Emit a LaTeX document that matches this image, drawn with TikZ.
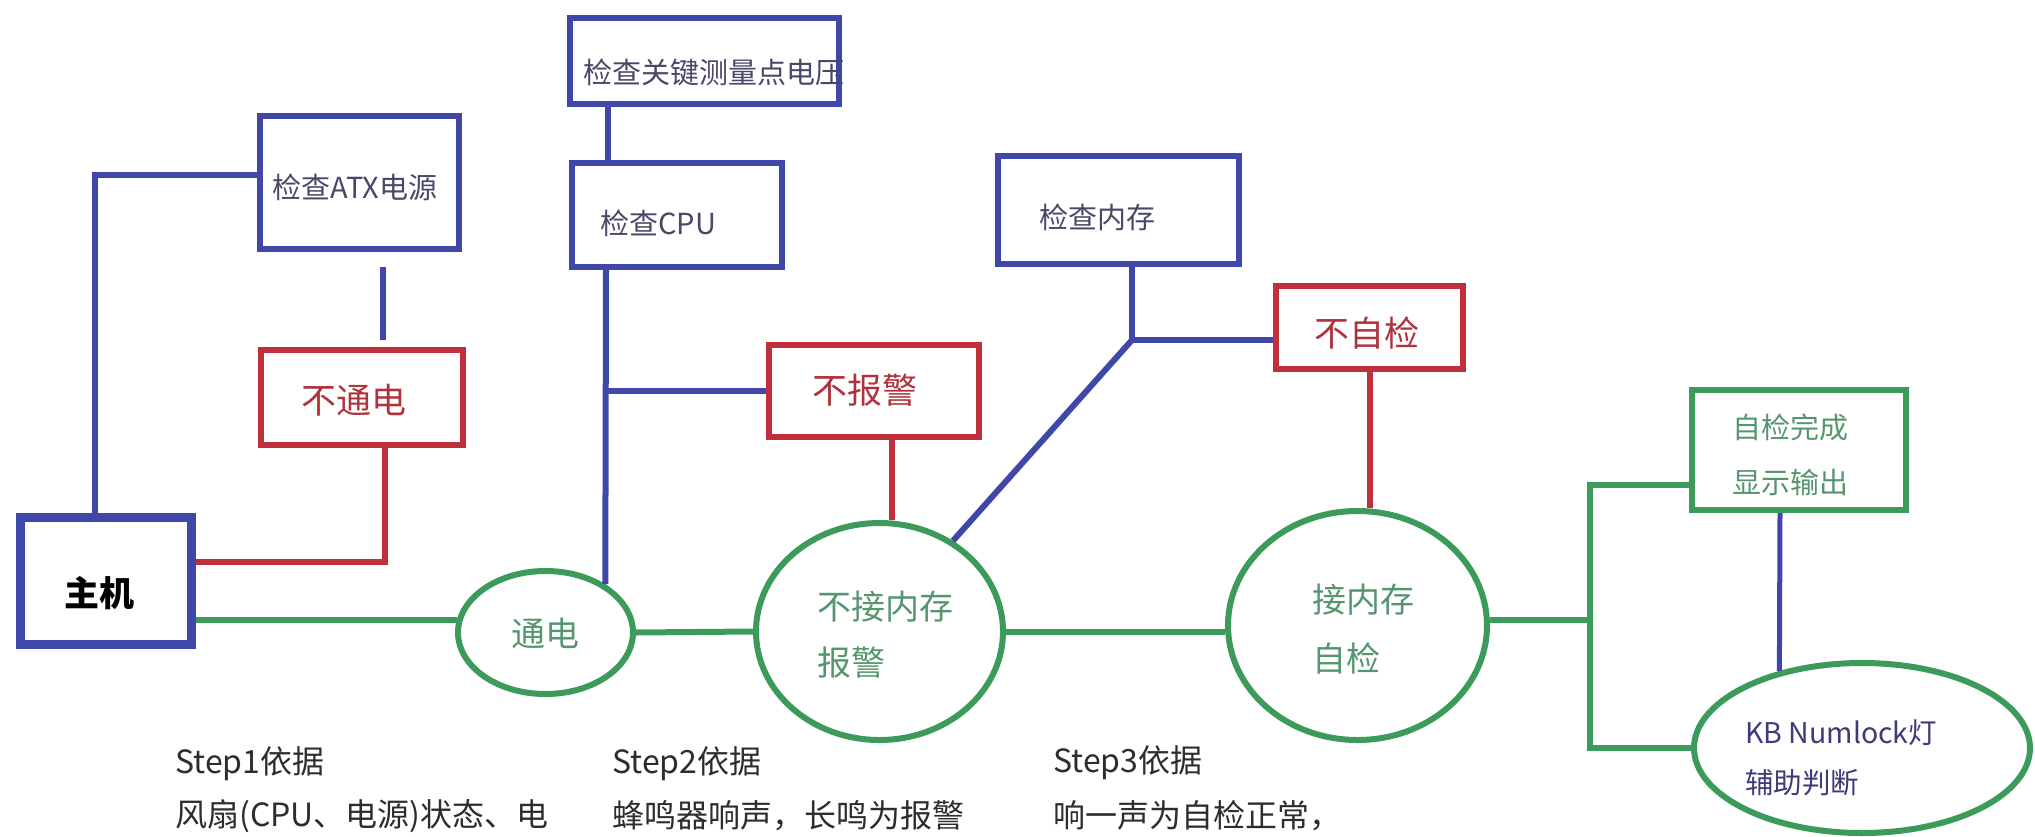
\documentclass[tikz,border=0pt]{standalone}
\usepackage{fontspec}
\setmainfont{Noto Sans CJK SC}
\usetikzlibrary{shapes.geometric}
\definecolor{cblue}{RGB}{63,72,168}
\definecolor{cred}{RGB}{192,48,60}
\definecolor{cgreen}{RGB}{60,155,90}
\definecolor{tblue}{RGB}{72,72,105}
\definecolor{tred}{RGB}{175,50,60}
\definecolor{tgreen}{RGB}{85,150,110}
\definecolor{tkb}{RGB}{60,60,120}
\definecolor{tstep}{RGB}{45,45,45}
\tikzset{
  boxb/.style={rectangle, draw=cblue, line width=6pt, inner sep=0pt},
  boxr/.style={rectangle, draw=cred, line width=6pt, inner sep=0pt},
  boxg/.style={rectangle, draw=cgreen, line width=6pt, inner sep=0pt},
  ell/.style={ellipse, draw=cgreen, line width=6pt, inner sep=0pt},
  bl/.style={draw=cblue, line width=6pt},
  rl/.style={draw=cred, line width=6pt},
  gl/.style={draw=cgreen, line width=6pt},
  txt/.style={anchor=west, inner sep=0pt},
  fblue/.style={text=tblue, font=\fontsize{29}{31}\selectfont},
  fred/.style={text=tred, font=\fontsize{35}{37}\selectfont},
  fgreen/.style={text=tgreen, font=\fontsize{34}{36}\selectfont},
  fgbox/.style={text=tgreen, font=\fontsize{29}{31}\selectfont},
  fkb/.style={text=tkb, font=\fontsize{28.5}{30}\selectfont},
  fstep/.style={text=tstep, font=\fontsize{32}{34}\selectfont},
}
\begin{document}
\begin{tikzpicture}[x=1pt,y=-1pt]
\useasboundingbox (0,0) rectangle (2035,836);
\fill[white] (0,0) rectangle (2035,836);

% boxes
\node[rectangle, draw=cblue, line width=9pt, inner sep=0pt, minimum width=171pt, minimum height=127pt] (host) at (106,581) {};
\node[boxb, minimum width=199pt, minimum height=133pt] (atx) at (359.5,182.5) {};
\node[boxr, minimum width=202pt, minimum height=95pt] (nopower) at (362,397.5) {};
\node[boxb, minimum width=269pt, minimum height=86pt] (key) at (704.5,61) {};
\node[boxb, minimum width=210pt, minimum height=104pt] (cpu) at (677,215) {};
\node[boxb, minimum width=241pt, minimum height=108pt] (mem) at (1118.5,210) {};
\node[boxr, minimum width=210pt, minimum height=92pt] (noalarm) at (874,391) {};
\node[boxr, minimum width=187pt, minimum height=83pt] (noself) at (1369.5,327.5) {};
\node[boxg, minimum width=214pt, minimum height=120pt] (done) at (1799,450) {};

% ellipses
\node[ell, minimum width=175pt, minimum height=123pt] (power) at (545.5,632.5) {};
\node[ell, minimum width=247pt, minimum height=217pt] (nomem) at (879.5,631.5) {};
\node[ell, minimum width=259pt, minimum height=229pt] (selftest) at (1357.5,625.5) {};
\node[ell, minimum width=336pt, minimum height=170pt] (kb) at (1862,748) {};

% texts
\node[txt, font=\fontsize{35}{37}\selectfont\bfseries] (thost) at (64,593) {主机};
\node[txt, fblue] (tatx) at (272,187) {检查ATX电源};
\node[txt, fred] (tnopower) at (301,400) {不通电};
\node[txt, fblue] (tkey) at (583,72) {检查关键测量点电压};
\node[txt, fblue] (tcpu) at (600,223) {检查CPU};
\node[txt, fblue] (tmem) at (1039,217) {检查内存};
\node[txt, fred] (tnoalarm) at (812,390) {不报警};
\node[txt, fred] (tnoself) at (1314,333) {不自检};
\node[txt, fgreen] (tpower) at (511,633) {通电};
\node[txt, fgreen] (tnomem1) at (817,607) {不接内存};
\node[txt, fgreen] (tnomem2) at (817,663) {报警};
\node[txt, fgreen] (tself1) at (1312,600) {接内存};
\node[txt, fgreen] (tself2) at (1312,658) {自检};
\node[txt, fgbox] (tdone1) at (1732,427) {自检完成};
\node[txt, fgbox] (tdone2) at (1732,482) {显示输出};
\node[txt, fkb] (tkb1) at (1745,733) {KB Numlock灯};
\node[txt, fkb] (tkb2) at (1745,783) {辅助判断};
\node[txt, fstep] (s1a) at (175,764) {Step1依据};
\node[txt, fstep] (s1b) at (175,816) {风扇(CPU、电源)状态、电};
\node[txt, fstep] (s2a) at (612,764) {Step2依据};
\node[txt, fstep] (s2b) at (612,816) {蜂鸣器响声，长鸣为报警};
\node[txt, fstep] (s3a) at (1053,763) {Step3依据};
\node[txt, fstep] (s3b) at (1053,816) {响一声为自检正常，};

% coordinates
\coordinate (mj) at (1132,340);
\coordinate (jn) at (1590,620);

% blue connectors
\draw[bl] ([xshift=-11pt]host.north) |- ([yshift=7.5pt]atx.west);
\draw[bl, shorten <=15pt, shorten >=7pt] ([xshift=23.5pt]atx.south) -- ([xshift=23.5pt]atx.south |- nopower.north);
\draw[bl] ([xshift=-96.5pt]key.south) -- ([xshift=-96.5pt]key.south |- cpu.north);
\draw[bl] ([xshift=-71pt]cpu.south) -- (power.39);
\draw[bl] (noalarm.west -| power.39) -- (noalarm.west);
\draw[bl] ([xshift=13.5pt]mem.south) -- (mj);
\draw[bl] (mj) -- ([yshift=-12.5pt]noself.west);
\draw[bl] (mj) -- (nomem.51);
\draw[draw=cblue, line width=5pt] ([xshift=-19pt]done.south) -- (kb.137);

% red connectors
\draw[rl] ([xshift=23pt]nopower.south) |- ([yshift=19pt]host.east);
\draw[rl] ([xshift=18pt]noalarm.south) -- ([xshift=18pt]noalarm.south |- nomem.north);
\draw[rl] (noself.south) -- (noself.south |- selftest.north);

% green connectors
\draw[gl] (power.172 -| host.east) -- (power.172);
\draw[gl] (power.east) -- (nomem.west);
\draw[gl] (nomem.east) -- (nomem.east -| selftest.west);
\draw[gl] (selftest.east |- jn) -- (jn);
\draw[gl] ([yshift=-35pt]done.west) -| (jn) |- (kb.west);
\end{tikzpicture}
\end{document}
